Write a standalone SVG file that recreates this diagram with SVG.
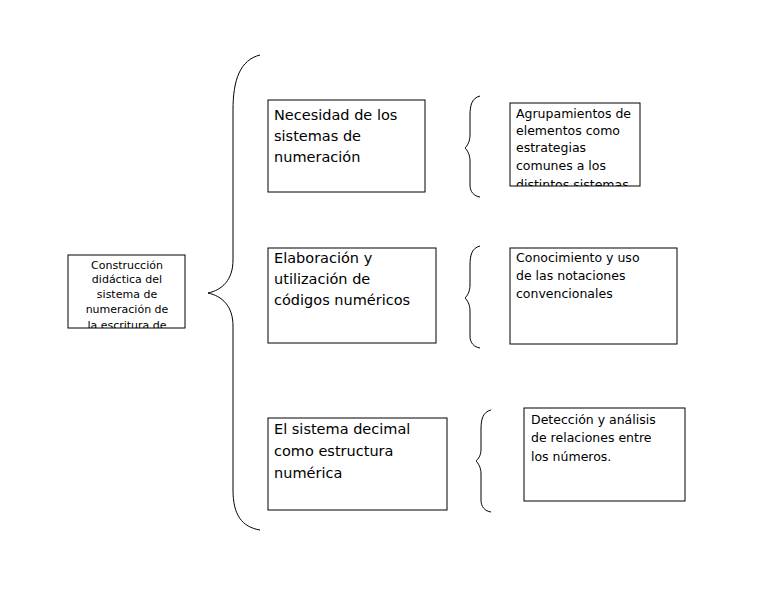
<svg xmlns="http://www.w3.org/2000/svg" width="768" height="594" viewBox="0 0 768 594">
<style>
.box{fill:#fff;stroke:#000;stroke-width:1}
.br{fill:none;stroke:#000;stroke-width:1}
.s{font-family:"DejaVu Sans",sans-serif;font-size:11px;text-anchor:middle}
.m{font-family:"DejaVu Sans",sans-serif;font-size:14.5px}
.r{font-family:"DejaVu Sans",sans-serif;font-size:12.5px}
</style>
<defs>
<clipPath id="c0"><rect x="68" y="255" width="117" height="73"/></clipPath>
<clipPath id="c1"><rect x="510" y="103" width="130" height="83"/></clipPath>
</defs>
<rect width="768" height="594" fill="#fff"/>
<g id="connectors">
<path class="br" d="M260,55 C240,60 233,80 233,110 L233,260 C233,280 222,290 208,293 C222,296 233,306 233,326 L233,490 C233,515 242,527 260,530"/>
<path class="br" d="M480,96 C472,98 470,105 470,115 L470,135 C470,142 467,146 465,148 C467,150 470,154 470,161 L470,185 C470,192 474,196 480,197"/>
<path class="br" d="M480,246 C472,248 470,255 470,265 L470,285 C470,292 467,296 465,298 C467,300 470,304 470,311 L470,336 C470,343 474,347 480,348"/>
<path class="br" d="M491,410 C483,412 481,419 481,429 L481,449 C481,456 478,459 476,461 C478,463 481,467 481,474 L481,500 C481,507 485,511 491,512"/>
</g>
<g id="n0"><rect class="box" x="68" y="255" width="117" height="73"/>
<g clip-path="url(#c0)"><text class="s" x="127" y="269">Construcción</text><text class="s" x="127" y="283">didáctica del</text><text class="s" x="127" y="298">sistema  de</text><text class="s" x="127" y="313">numeración de</text><text class="s" x="127" y="329">la escritura de</text></g></g>
<g id="n1"><rect class="box" x="268" y="100" width="157" height="92"/>
<text class="m" x="274" y="120">Necesidad de los</text><text class="m" x="274" y="141">sistemas de</text><text class="m" x="274" y="162">numeración</text></g>
<g id="n2"><rect class="box" x="268" y="248" width="168" height="95"/>
<text class="m" x="274" y="263">Elaboración y</text><text class="m" x="274" y="284">utilización de</text><text class="m" x="274" y="305">códigos numéricos</text></g>
<g id="n3"><rect class="box" x="268" y="418" width="179" height="92"/>
<text class="m" x="274" y="434">El sistema decimal</text><text class="m" x="274" y="456">como estructura</text><text class="m" x="274" y="478">numérica</text></g>
<g id="n4"><rect class="box" x="510" y="103" width="130" height="83"/>
<g clip-path="url(#c1)"><text class="r" x="516" y="118">Agrupamientos de</text><text class="r" x="516" y="135">elementos  como</text><text class="r" x="516" y="152">estrategias</text><text class="r" x="516" y="170">comunes  a los</text><text class="r" x="516" y="189">distintos sistemas</text></g></g>
<g id="n5"><rect class="box" x="510" y="248" width="167" height="96"/>
<text class="r" x="516" y="262">Conocimiento y uso</text><text class="r" x="516" y="280">de las notaciones</text><text class="r" x="516" y="298">convencionales</text></g>
<g id="n6"><rect class="box" x="524" y="408" width="161" height="93"/>
<text class="r" x="531" y="424">Detección y análisis</text><text class="r" x="531" y="442">de relaciones entre</text><text class="r" x="531" y="461">los números.</text></g>
</svg>
